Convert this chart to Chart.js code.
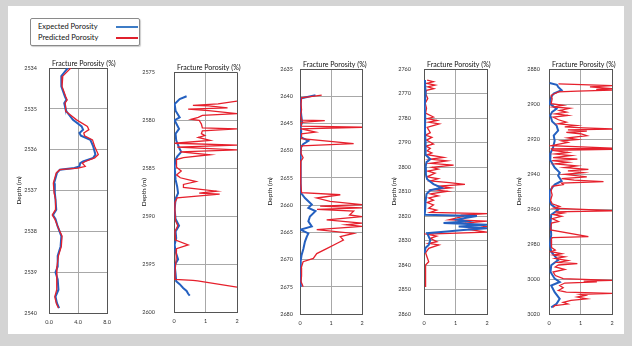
<!DOCTYPE html>
<html lang="en">
<head>
<meta charset="UTF-8">
<title>Fracture Porosity</title>
<script src="https://cdn.jsdelivr.net/npm/chart.js@4.4.1/dist/chart.umd.min.js"></script>
<style>
  body { margin: 0; background: #d4d4d4; width: 632px; height: 346px; position: relative; overflow: hidden; font-family: Lato, Arial, sans-serif; }
  .sheet { position: absolute; left: 8px; top: 6px; width: 616px; height: 328px; background: #fff; }
  canvas { position: absolute; }
  .legend { position: absolute; left: 30px; top: 18px; width: 108px; height: 26px; border: 1px solid #8a8a8a; border-radius: 2px; background: #fff; box-shadow: 1px 1px 1px #ccc; font-size: 7.5px; color: #111; }
  .legend div { position: absolute; left: 7px; }
  .legend span { position: absolute; left: 78px; width: 22px; height: 2px; top: 4px; }
</style>
</head>
<body>
<div class="sheet"></div>
<div class="legend">
  <div style="top:3px">Expected Porosity<span style="background:#3d7cc6"></span></div>
  <div style="top:14px">Predicted Porosity<span style="background:#e0202c"></span></div>
</div>
<canvas id="c1"></canvas>
<canvas id="c2"></canvas>
<canvas id="c3"></canvas>
<canvas id="c4"></canvas>
<canvas id="c5"></canvas>

<script>
// datos: pares [profundidad (m), porosidad (%)]
const expected1 = [[2534.0,2.6],[2534.2,1.7],[2534.45,1.7],[2534.7,2.2],[2534.78,2.4],[2534.86,2.1],[2534.94,2.2],[2535.06,2.4],[2535.27,3.3],[2535.43,4.5],[2535.51,4.7],[2535.59,4.2],[2535.66,4.4],[2535.76,5.7],[2535.92,6.1],[2536.12,6.4],[2536.2,6.1],[2536.29,4.7],[2536.33,4.3],[2536.41,4.2],[2536.45,3.5],[2536.49,1.5],[2536.57,1.1],[2536.82,0.7],[2537.06,0.8],[2537.22,0.9],[2537.47,1.0],[2537.6,0.55],[2537.7,0.9],[2537.88,1.2],[2538.12,1.7],[2538.37,1.6],[2538.6,1.2],[2538.86,1.2],[2539.0,0.9],[2539.18,1.2],[2539.43,1.3],[2539.6,0.9],[2539.76,1.1],[2539.88,1.4]];
const predicted1 = [[2534.0,3.0],[2534.2,1.9],[2534.45,1.8],[2534.7,2.3],[2534.78,2.5],[2534.86,2.2],[2534.94,2.3],[2535.06,2.3],[2535.27,3.8],[2535.43,5.3],[2535.51,5.5],[2535.59,4.8],[2535.66,4.9],[2535.76,6.0],[2535.92,6.3],[2536.12,6.8],[2536.2,6.3],[2536.29,5.0],[2536.33,4.6],[2536.41,5.0],[2536.45,4.0],[2536.49,1.5],[2536.57,1.0],[2536.82,0.6],[2537.06,0.7],[2537.22,0.9],[2537.47,0.9],[2537.6,0.45],[2537.7,0.8],[2537.88,1.2],[2538.12,1.8],[2538.37,1.7],[2538.6,1.3],[2538.86,1.1],[2539.0,1.0],[2539.18,1.1],[2539.43,1.1],[2539.6,0.8],[2539.76,1.0],[2539.88,1.3]];

const expected2 = [[2577.5,0.4],[2577.8,0.18],[2578.3,0.02],[2579.0,0.05],[2579.7,0.18],[2580.0,0.02],[2580.9,0.16],[2581.4,0.05],[2582.1,0.07],[2583.0,0.18],[2583.3,0.23],[2583.8,0.1],[2584.1,0.05],[2584.8,0.02],[2586.2,0.05],[2586.9,0.1],[2587.6,0.13],[2588.2,0.05],[2589.3,0.02],[2590.3,0.05],[2591.0,0.16],[2591.6,0.05],[2592.3,0.07],[2593.0,0.02],[2593.7,0.05],[2594.5,0.13],[2595.1,0.02],[2596.0,0.05],[2596.8,0.07],[2597.1,0.18],[2597.5,0.29],[2597.8,0.4],[2598.1,0.45],[2598.3,0.5]];
const predicted2 = [[2578.0,2.0],[2578.3,1.4],[2578.45,0.6],[2578.5,1.1],[2578.7,1.7],[2578.85,0.45],[2579.0,1.1],[2579.3,2.0],[2579.5,0.9],[2579.7,0.77],[2579.9,0.55],[2580.0,0.8],[2580.4,0.87],[2580.8,0.9],[2580.9,2.0],[2581.1,0.9],[2581.4,0.87],[2581.6,0.98],[2581.8,0.77],[2582.1,1.14],[2582.4,0.02],[2582.6,2.0],[2582.8,0.1],[2583.1,2.0],[2583.3,0.2],[2583.6,1.14],[2583.9,0.3],[2584.1,0.08],[2584.9,0.08],[2585.3,0.23],[2585.7,0.08],[2586.0,0.2],[2586.4,0.7],[2586.7,0.3],[2587.0,0.3],[2587.4,1.35],[2587.6,0.8],[2587.7,1.45],[2588.1,0.1],[2588.6,0.03],[2589.5,0.03],[2590.5,0.05],[2591.0,0.12],[2591.6,0.03],[2592.5,0.05],[2593.0,0.45],[2593.4,0.08],[2594.4,0.07],[2595.5,0.04],[2596.6,0.03],[2596.7,0.6],[2596.75,0.75],[2597.4,2.0]];

const expected3 = [[2639.8,0.5],[2640.4,0.02],[2641.5,0.03],[2642.5,0.02],[2643.5,0.04],[2644.8,0.07],[2645.5,0.02],[2646.5,0.04],[2647.5,0.02],[2648.2,0.27],[2648.8,0.1],[2649.5,0.02],[2651,0.03],[2653,0.02],[2655,0.02],[2657.7,0.02],[2658.7,0.16],[2659.9,0.38],[2660.5,0.27],[2661.1,0.5],[2662.1,0.32],[2663.0,0.27],[2663.9,0.38],[2664.5,0.02],[2665.2,0.27],[2665.8,0.22],[2666.7,0.16],[2668.0,0.11],[2669.2,0.05],[2670.4,0.02],[2672,0.02],[2675,0.03]];
const predicted3 = [[2639.8,0.7],[2640.3,0.05],[2641.5,0.03],[2642.5,0.05],[2643.5,0.02],[2644.4,0.05],[2644.5,0.8],[2644.8,0.05],[2645.5,0.04],[2645.7,2.0],[2646.0,0.05],[2646.6,0.5],[2646.9,0.05],[2647.8,0.05],[2648.7,1.73],[2649.1,0.05],[2650.5,0.03],[2651.3,0.1],[2652,0.02],[2654,0.03],[2656,0.02],[2657.7,0.05],[2658.1,1.3],[2658.7,0.54],[2659.3,0.97],[2659.9,2.0],[2660.2,0.65],[2660.5,2.0],[2660.8,0.55],[2661.1,1.73],[2661.8,1.6],[2662.1,2.0],[2662.7,0.86],[2663.3,2.0],[2663.6,1.5],[2663.9,2.0],[2664.5,0.54],[2665.2,1.73],[2665.8,1.3],[2666.4,1.4],[2667.0,1.2],[2668.0,0.86],[2668.9,0.54],[2669.8,0.43],[2670.4,0.1],[2671.5,0.04],[2673,0.05],[2674,0.03],[2675,0.1]];

const expected4 = [[2764.5,0.03],[2770,0.05],[2775,0.02],[2780,0.04],[2785,0.03],[2790,0.05],[2795,0.05],[2796.8,0.2],[2798,0.08],[2800,0.05],[2803,0.06],[2805,0.1],[2807,0.3],[2808.5,0.57],[2809.5,0.2],[2811,0.08],[2814,0.05],[2817,0.04],[2819.5,0.02],[2820,1.68],[2820.8,1.3],[2821.5,1.05],[2822.2,1.35],[2822.9,0.62],[2823.6,2.0],[2824.3,1.1],[2825,2.0],[2825.7,1.25],[2826.3,0.73],[2827,0.1],[2829.8,0.2],[2831.8,0.15],[2833,0.05],[2835,0.02]];
const predicted4 = [[2764.5,0.1],[2765.2,0.3],[2765.9,0.08],[2766.6,0.35],[2767.3,0.12],[2768,0.31],[2768.7,0.08],[2770,0.05],[2772,0.12],[2774,0.04],[2776,0.08],[2778,0.05],[2779.6,0.3],[2780.3,0.1],[2781,0.41],[2781.7,0.15],[2782.4,0.48],[2783.8,0.1],[2786,0.2],[2787,0.05],[2787.9,0.25],[2789,0.08],[2790.6,0.3],[2791.5,0.06],[2792.4,0.2],[2793.4,0.1],[2794.3,0.25],[2795,0.1],[2796.1,0.62],[2796.8,0.2],[2797.5,0.73],[2798.5,0.2],[2799.2,0.94],[2800.1,0.25],[2800.9,0.45],[2801.7,0.12],[2802.5,0.35],[2804,0.1],[2804.8,0.45],[2805.7,0.2],[2806.4,0.8],[2807.1,1.3],[2807.8,0.5],[2808.5,0.84],[2809.2,0.3],[2809.9,0.75],[2811,0.2],[2811.8,0.45],[2812.6,0.15],[2813.5,0.3],[2814.5,0.1],[2815.5,0.3],[2816.8,0.15],[2817.6,0.4],[2818.5,0.2],[2819.0,2.0],[2819.6,1.2],[2820.2,1.25],[2821.5,0.8],[2822.1,2.0],[2822.9,1.3],[2824.3,2.0],[2825.5,1.4],[2826.6,2.0],[2827.4,0.1],[2828.2,0.4],[2829.1,0.2],[2830.5,0.41],[2831.2,0.15],[2831.8,0.47],[2833.2,0.15],[2835,0.05],[2838.7,0.15],[2840,0.05],[2843,0.06],[2846,0.04],[2849,0.05]];

const expected5 = [[2888,0.02],[2889,0.25],[2890.2,0.29],[2892.1,0.4],[2894,0.15],[2896,0.07],[2899.8,0.02],[2902.7,0.24],[2904.5,0.1],[2906.5,0.04],[2910,0.1],[2912.3,0.24],[2915.2,0.29],[2918,0.15],[2921,0.18],[2924.8,0.13],[2928,0.05],[2932,0.04],[2936.3,0.18],[2939.2,0.34],[2941,0.29],[2944,0.4],[2946,0.18],[2949.8,0.02],[2955,0.02],[2957.5,0.07],[2960.4,0.29],[2963.3,0.07],[2968,0.05],[2974.8,0.07],[2980,0.03],[2984.4,0.07],[2989.2,0.29],[2992.1,0.07],[2996,0.05],[2999.8,0.18],[3001.7,0.34],[3003.7,0.07],[3007.5,0.18],[3011.3,0.34],[3014.2,0.24],[3016.2,0.07]];
const predicted5 = [[2888.5,0.3],[2889.5,2.0],[2890.2,1.3],[2891.2,2.0],[2891.7,1.5],[2892.1,2.0],[2892.6,0.9],[2893.1,0.3],[2895,0.07],[2897,0.1],[2899.8,0.07],[2900.8,0.45],[2901.7,0.15],[2902.5,0.66],[2903.7,0.34],[2904.6,0.55],[2905.6,0.2],[2906.5,0.6],[2907.5,0.13],[2909,0.3],[2910.4,0.55],[2911.3,0.3],[2912.3,0.88],[2913.1,0.5],[2913.7,1.1],[2914.3,2.0],[2914.8,0.6],[2915.5,1.2],[2916.2,0.55],[2917,1.0],[2918.1,1.2],[2919.4,0.6],[2920.3,0.9],[2921,0.4],[2922,0.6],[2923.8,0.07],[2925.2,2.0],[2925.6,0.05],[2925.9,2.0],[2926.5,0.1],[2927.7,0.6],[2928.6,0.2],[2929.5,0.7],[2930.6,0.13],[2931.5,0.9],[2932.4,0.1],[2933.3,0.6],[2934.2,0.2],[2935.4,0.88],[2936.3,0.5],[2937.3,1.25],[2938.2,0.6],[2939.2,1.09],[2940.2,0.5],[2941.7,1.2],[2942.6,0.4],[2943.5,0.8],[2944.4,1.73],[2945.2,0.4],[2946,0.45],[2947,0.1],[2949.8,0.07],[2952,0.1],[2955,0.05],[2957,0.1],[2958.5,0.34],[2959.5,0.15],[2961,2.0],[2961.6,0.2],[2962.3,0.45],[2963.2,0.15],[2964.2,0.4],[2965.5,0.1],[2967.1,0.3],[2968,0.08],[2972,0.05],[2975.8,1.25],[2976.3,0.1],[2977.7,0.07],[2982,0.08],[2983.5,0.2],[2984.4,0.07],[2985.5,0.4],[2986.3,0.15],[2987.3,0.5],[2988.3,0.2],[2989.5,0.6],[2990.5,0.3],[2991.2,0.9],[2992,0.3],[2993.1,0.2],[2994.5,0.5],[2996,0.13],[2998,0.2],[2999.8,0.45],[3000.8,2.0],[3001.2,1.1],[3001.7,1.52],[3002.3,0.5],[3003.7,0.34],[3005,0.45],[3006.5,0.3],[3007.5,0.55],[3008.2,2.0],[3008.8,1.0],[3009.4,1.15],[3010.3,0.9],[3011.3,1.2],[3012.2,0.7],[3013.3,0.45],[3014.3,0.6],[3015.2,0.18],[3016.2,0.13]];

// rangos de ejes
const depthMin = [2534, 2575, 2635, 2760, 2880];
const depthMax = [2540, 2600, 2680, 2860, 3020];
const depthStep = [1, 5, 5, 10, 20];
const porMax = [8, 2, 2, 2, 2];
const porStep = [4, 1, 1, 1, 1];

// posicion de cada panel (borde izquierdo y ancho del area de trazado)
const plotLeft = [49, 174, 300, 424, 549];
const plotWidth = [58, 63, 62, 63, 63];
const plotTop = [68, 67, 69, 69, 69];
const tickGap = [12, 19, 7, 13, 9];
// en el panel 4 la curva esperada queda encima
const blueOnTop = [false, false, false, true, false];

const seriesExp = [expected1, expected2, expected3, expected4, expected5];
const seriesPred = [predicted1, predicted2, predicted3, predicted4, predicted5];

const AXIS_W = 38;
const CANVAS_TOP = 50;
const CANVAS_BOTTOM = 336;
const RIGHT_PAD = 18;

const topTitle = {
  id: 'topTitle',
  afterDraw(chart) {
    const { ctx, chartArea } = chart;
    ctx.save();
    ctx.font = '7px Lato';
    ctx.fillStyle = '#111';
    ctx.textBaseline = 'bottom';
    ctx.fillText('Fracture Porosity (%)', chartArea.left + 3, chartArea.top - 1);
    ctx.restore();
  }
};

const toPts = arr => arr.map(p => ({ x: p[1], y: p[0] }));

for (let i = 0; i < 5; i++) {
  const cv = document.getElementById('c' + (i + 1));
  const w = AXIS_W + plotWidth[i] + RIGHT_PAD;
  const h = CANVAS_BOTTOM - CANVAS_TOP;
  cv.width = w; cv.height = h;
  cv.style.left = (plotLeft[i] - AXIS_W) + 'px';
  cv.style.top = CANVAS_TOP + 'px';
  const edge = c => (c.tick && (c.tick.value === c.scale.min || c.tick.value === c.scale.max)) ? '#555' : '#a8a8a8';

  new Chart(cv, {
    type: 'scatter',
    data: {
      datasets: [
        { label: 'Expected Porosity', data: toPts(seriesExp[i]), showLine: true, borderColor: '#2460c0', borderWidth: 2, pointRadius: 0, order: blueOnTop[i] ? 1 : 2 },
        { label: 'Predicted Porosity', data: toPts(seriesPred[i]), showLine: true, borderColor: '#e6202c', borderWidth: 1.3, pointRadius: 0, order: blueOnTop[i] ? 2 : 1 }
      ]
    },
    options: {
      responsive: false,
      animation: false,
      devicePixelRatio: 1,
      layout: { padding: { top: plotTop[i] - CANVAS_TOP, right: RIGHT_PAD, left: 0, bottom: 0 } },
      plugins: { legend: { display: false }, tooltip: { enabled: false } },
      scales: {
        x: {
          type: 'linear', min: 0, max: porMax[i],
          afterFit: s => { s.height = CANVAS_BOTTOM - (plotTop[i] + 245) ; },
          ticks: { stepSize: porStep[i], padding: 6, color: '#333', font: { family: 'Lato', size: 5.5 },
                   callback: v => porMax[i] > 2 ? v.toFixed(1) : String(v) },
          grid: { color: edge, drawTicks: false },
          border: { color: '#555' }
        },
        y: {
          type: 'linear', reverse: true, min: depthMin[i], max: depthMax[i],
          afterFit: s => { s.width = AXIS_W; },
          ticks: { stepSize: depthStep[i], padding: tickGap[i], color: '#333', font: { family: 'Lato', size: 5.5 },
                   callback: v => String(v) },
          grid: { color: edge, drawTicks: false },
          border: { color: '#555' },
          title: { display: true, text: 'Depth (m)', color: '#111', font: { family: 'Lato', size: 6.5 }, padding: 4 }
        }
      }
    },
    plugins: [topTitle]
  });
}
</script>
</body>
</html>
